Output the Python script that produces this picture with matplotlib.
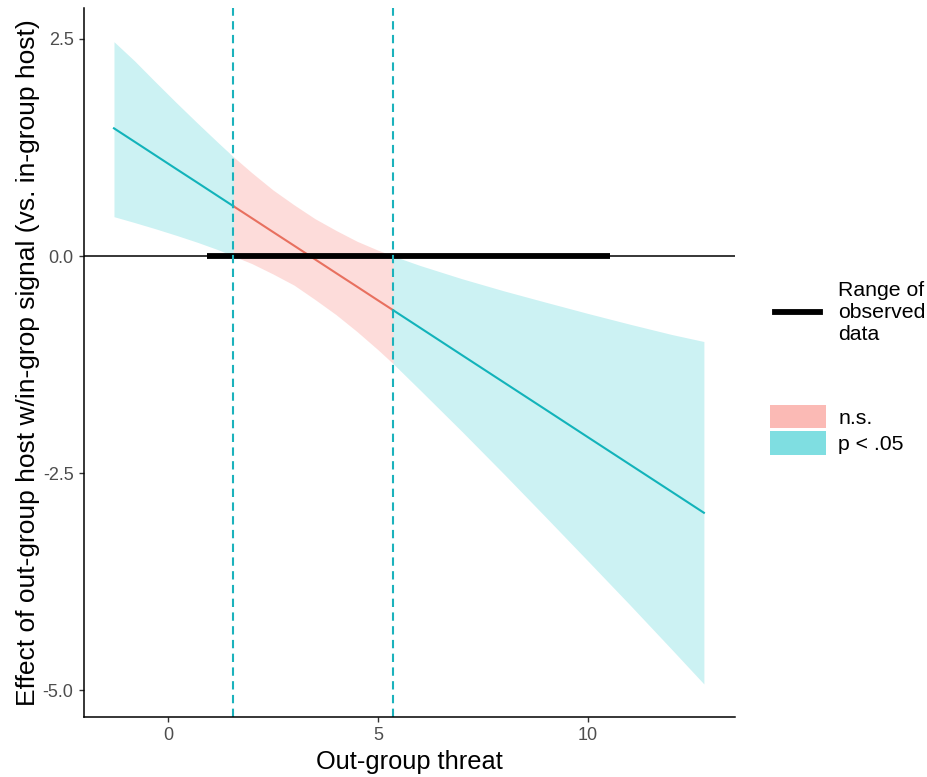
"""
Johnson-Neyman plot: out-group host effect across out-group threat.
"""
import matplotlib
matplotlib.use('Agg')
import matplotlib.pyplot as plt
from matplotlib.lines import Line2D
from matplotlib.patches import Patch

plt.rcParams['font.family'] = ['Liberation Sans', 'DejaVu Sans']

# Johnson-Neyman points (edges of the significance regions)
jn_low = 1.555
jn_high = 5.36

# simple slope and 95% CI
left_x = [-1.286, -0.8, -0.3, 0.2, 0.7, 1.2, 1.555]
left_est = [1.471, 1.318, 1.160, 1.002, 0.845, 0.687, 0.575]
left_upper = [2.469, 2.250, 2.006, 1.766, 1.532, 1.303, 1.144]
left_lower = [0.453, 0.386, 0.314, 0.238, 0.158, 0.071, 0.000]

mid_x = [1.555, 2.0, 2.5, 3.0, 3.5, 4.0, 4.5, 5.0, 5.36]
mid_est = [0.575, 0.435, 0.277, 0.120, -0.038, -0.196, -0.353, -0.511, -0.624]
mid_upper = [1.144, 0.958, 0.761, 0.590, 0.430, 0.295, 0.170, 0.067, 0.000]
mid_lower = [0.000, -0.088, -0.207, -0.335, -0.501, -0.675, -0.870, -1.080, -1.240]

right_x = [5.36, 6.0, 7.0, 8.0, 9.0, 10.0, 11.0, 12.0, 12.76]
right_est = [-0.624, -0.826, -1.142, -1.457, -1.772, -2.088, -2.403, -2.718, -2.958]
right_upper = [0.000, -0.109, -0.262, -0.402, -0.533, -0.662, -0.786, -0.905, -0.985]
right_lower = [-1.240, -1.543, -2.022, -2.512, -3.011, -3.514, -4.020, -4.535, -4.930]

# range of observed moderator values
observed_range = [0.94, 10.52]

x_ticks = [0, 5, 10]
y_ticks = [2.5, 0.0, -2.5, -5.0]

blue = '#00BFC4'
red = '#F8766D'

fig = plt.figure(figsize=(9.28, 7.77), dpi=100)
ax = fig.add_axes([0.0905, 0.0772, 0.7015, 0.9125])

# ribbons
ax.fill_between(left_x, left_lower, left_upper, color=blue, alpha=0.2, lw=0)
ax.fill_between(mid_x, mid_lower, mid_upper, color=red, alpha=0.25, lw=0)
ax.fill_between(right_x, right_lower, right_upper, color=blue, alpha=0.2, lw=0)

# slope line
ax.plot(left_x, left_est, color='#12B3BA', lw=1.5)
ax.plot(mid_x, mid_est, color='#E8705F', lw=1.5)
ax.plot(right_x, right_est, color='#12B3BA', lw=1.5)

# zero line and observed range
ax.axhline(0, color='black', lw=1.1)
ax.plot(observed_range, [0, 0], color='black', lw=4.2, solid_capstyle='butt')

# JN bounds
for xv in [jn_low, jn_high]:
    ax.axvline(xv, color='#1BB2BC', lw=1.5, linestyle=(0, (4, 2.6)))

ax.set_xlim(-2.0, 13.5)
ax.set_ylim(-5.311, 2.857)
ax.set_xticks(x_ticks)
ax.set_xticklabels([str(t) for t in x_ticks])
ax.set_yticks(y_ticks)
ax.set_yticklabels(['%.1f' % t for t in y_ticks])

for side in ['top', 'right']:
    ax.spines[side].set_visible(False)
for side in ['left', 'bottom']:
    ax.spines[side].set_linewidth(1.1)
ax.tick_params(direction='out', length=3.5, width=1.0, color='#333333',
               labelcolor='#4D4D4D', labelsize=13, pad=4)

ax.set_xlabel('Out-group threat', fontsize=18.3, labelpad=4)
ax.set_ylabel('Effect of out-group host w/in-grop signal (vs. in-group host)',
              fontsize=19, labelpad=2)

# legends
leg1 = ax.legend(handles=[Line2D([0], [0], color='black', lw=4.2)],
                 labels=['Range of\nobserved\ndata'],
                 loc='center left', bbox_to_anchor=(1.0614, 0.571),
                 frameon=False, fontsize=15.3, borderpad=0, borderaxespad=0,
                 handlelength=2.1, handletextpad=0.85)
ax.add_artist(leg1)

ax.legend(handles=[Patch(facecolor=red, alpha=0.5, lw=0),
                   Patch(facecolor=blue, alpha=0.5, lw=0)],
          labels=['n.s.', 'p < .05'],
          loc='center left', bbox_to_anchor=(1.0538, 0.405),
          frameon=False, fontsize=15.3, borderpad=0, borderaxespad=0,
          handlelength=2.65, handleheight=1.3, handletextpad=0.57,
          labelspacing=0.15)

plt.savefig('out.png', dpi=100)
